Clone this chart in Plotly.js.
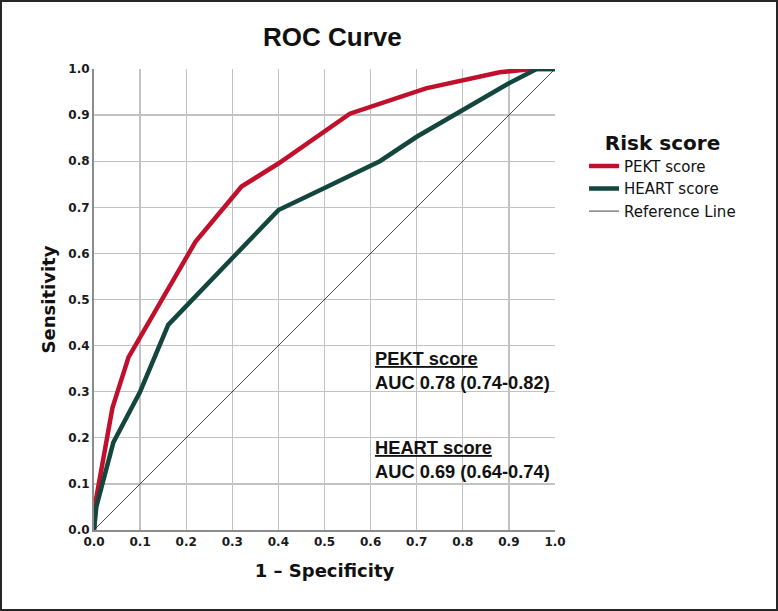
<!DOCTYPE html>
<html>
<head>
<meta charset="utf-8">
<script src="https://cdn.plot.ly/plotly-3.0.1.min.js"></script>
<style>
  html, body { margin: 0; padding: 0; background: #ffffff; }
  #frame { width: 774px; height: 607px; border: 2px solid #262626; background: #fff; }
</style>
</head>
<body>
<div id="frame"><div id="chart" style="width:774px;height:607px;"></div></div>
<script>
// ROC curve data (1 - specificity, sensitivity)
const pektX  = [0, 0.005, 0.04, 0.075, 0.22, 0.32, 0.40, 0.555, 0.72, 0.88, 0.95, 1.0];
const pektY  = [0, 0.07, 0.265, 0.375, 0.625, 0.745, 0.795, 0.903, 0.958, 0.993, 1.0, 1.0];
const heartX = [0, 0.005, 0.042, 0.10, 0.161, 0.40, 0.50, 0.62, 0.70, 0.80, 0.90, 0.96, 1.0];
const heartY = [0, 0.05, 0.19, 0.30, 0.445, 0.694, 0.742, 0.80, 0.853, 0.911, 0.969, 1.0, 1.0];
const refX = [0, 1];
const refY = [0, 1];
const seriesNames = ['PEKT score', 'HEART score', 'Reference Line'];
const aucLabels = ['AUC 0.78 (0.74-0.82)', 'AUC 0.69 (0.64-0.74)'];
const aucPosY = [0.345, 0.154];

const tickFont = {family: 'DejaVu Sans, Verdana, sans-serif', size: 12, color: '#1a1a1a', weight: 'bold'};
const axTitleFont = {family: 'DejaVu Sans, Verdana, sans-serif', size: 18, color: '#111', weight: 'bold'};

const traces = [
  {x: pektX, y: pektY, type: 'scatter', mode: 'lines', name: seriesNames[0],
   line: {color: '#c0102c', width: 4.5}, hoverinfo: 'skip'},
  {x: heartX, y: heartY, type: 'scatter', mode: 'lines', name: seriesNames[1],
   line: {color: '#13463c', width: 4.5}, hoverinfo: 'skip'},
  {x: refX, y: refY, type: 'scatter', mode: 'lines', name: seriesNames[2],
   line: {color: '#333333', width: 0.9}, hoverinfo: 'skip'}
];

const annFont = {family: 'Liberation Sans, Arial, sans-serif', size: 18.3, color: '#111', weight: 'bold'};

const layout = {
  width: 774, height: 607,
  margin: {l: 92, r: 221, t: 67, b: 79},
  paper_bgcolor: '#ffffff', plot_bgcolor: '#ffffff',
  showlegend: true,
  title: {
    text: 'ROC Curve',
    font: {family: 'Liberation Sans, Arial, sans-serif', size: 26, color: '#111', weight: 'bold'},
    xref: 'paper', x: 0.517, xanchor: 'center',
    yref: 'container', y: 0.942, yanchor: 'middle'
  },
  xaxis: {
    range: [0, 1], dtick: 0.1, tick0: 0, tickformat: '.1f',
    showgrid: true, gridcolor: '#c2c2c2', gridwidth: 1.3,
    showline: true, linecolor: '#8c8c8c', linewidth: 2,
    zeroline: false, ticks: '', tickfont: tickFont, fixedrange: true,
    title: {text: '1 – Specificity', font: axTitleFont, standoff: 16}
  },
  yaxis: {
    range: [0, 1], dtick: 0.1, tick0: 0, tickformat: '.1f',
    showgrid: true, gridcolor: '#c2c2c2', gridwidth: 1.3,
    showline: true, linecolor: '#8c8c8c', linewidth: 2,
    zeroline: false, ticks: '', tickfont: tickFont, fixedrange: true,
    title: {text: 'Sensitivity', font: axTitleFont, standoff: 8}
  },
  legend: {
    x: 1.063, xanchor: 'left', y: 0.881, yanchor: 'top',
    bgcolor: 'rgba(0,0,0,0)', borderwidth: 0,
    font: {family: 'DejaVu Sans, Verdana, sans-serif', size: 15, color: '#111'},
    title: {text: 'Risk score', side: 'top center',
            font: {family: 'DejaVu Sans, Verdana, sans-serif', size: 20, color: '#111', weight: 'bold'}},
    tracegroupgap: 0, itemwidth: 30
  },
  annotations: [
    {xref: 'x', yref: 'y', x: 0.606, y: aucPosY[0], xanchor: 'left', yanchor: 'middle', align: 'left',
     showarrow: false, font: annFont,
     text: '<u>' + seriesNames[0] + '</u><br>' + aucLabels[0]},
    {xref: 'x', yref: 'y', x: 0.606, y: aucPosY[1], xanchor: 'left', yanchor: 'middle', align: 'left',
     showarrow: false, font: annFont,
     text: '<u>' + seriesNames[1] + '</u><br>' + aucLabels[1]}
  ]
};

Plotly.newPlot('chart', traces, layout, {displayModeBar: false, staticPlot: true});
</script>
</body>
</html>
